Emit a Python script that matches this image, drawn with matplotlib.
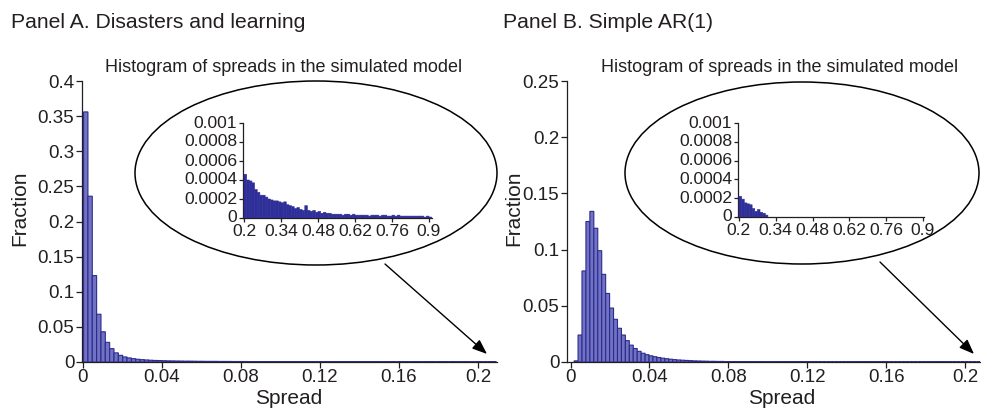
import numpy as np
import matplotlib
matplotlib.use("Agg")
import matplotlib.pyplot as plt
from matplotlib.patches import Ellipse, FancyArrowPatch

plt.rcParams['font.family'] = ['Liberation Sans', 'DejaVu Sans']

# ---------------- data ----------------
panel_titles = ["Panel A. Disasters and learning", "Panel B. Simple AR(1)"]
inset_title = "Histogram of spreads in the simulated model"
x_label = "Spread"
y_label = "Fraction"

main_xticks = [0, 0.04, 0.08, 0.12, 0.16, 0.2]
main_xticklabels = ["0", "0.04", "0.08", "0.12", "0.16", "0.2"]
a_yticks = [0, 0.05, 0.1, 0.15, 0.2, 0.25, 0.3, 0.35, 0.4]
a_yticklabels = ["0", "0.05", "0.1", "0.15", "0.2", "0.25", "0.3", "0.35", "0.4"]
b_yticks = [0, 0.05, 0.1, 0.15, 0.2, 0.25]
b_yticklabels = ["0", "0.05", "0.1", "0.15", "0.2", "0.25"]
inset_xticks = [0.2, 0.34, 0.48, 0.62, 0.76, 0.9]
inset_xticklabels = ["0.2", "0.34", "0.48", "0.62", "0.76", "0.9"]
inset_yticks = [0, 0.0002, 0.0004, 0.0006, 0.0008, 0.001]
inset_yticklabels = ["0", "0.0002", "0.0004", "0.0006", "0.0008", "0.001"]

# Panel A main histogram
a_bin_start = 0.0003
a_bin_width = 0.0022
a_frac = [
    0.356, 0.236, 0.123, 0.068, 0.043, 0.028, 0.019, 0.013, 0.0095, 0.0072,
    0.0058, 0.0047, 0.0039, 0.0033, 0.0029, 0.0025, 0.0022, 0.0020, 0.0018, 0.0016,
    0.0015, 0.0014, 0.0013, 0.0012, 0.0012, 0.0011, 0.0010, 0.0010, 0.0009, 0.0009,
    0.0009, 0.0008, 0.0008, 0.0008, 0.0007, 0.0007, 0.0007, 0.0007, 0.0006, 0.0006,
    0.0006, 0.0006, 0.0006, 0.0005, 0.0005, 0.0005, 0.0005, 0.0005, 0.0005, 0.0004,
    0.0004, 0.0004, 0.0004, 0.0004, 0.0004, 0.0004, 0.0003, 0.0004, 0.0003, 0.0003,
    0.0003, 0.0003, 0.0003, 0.0003, 0.0003, 0.0003, 0.0003, 0.0002, 0.0003, 0.0002,
    0.0002, 0.0002, 0.0002, 0.0002, 0.0002, 0.0002, 0.0002, 0.0002, 0.0002, 0.0002,
    0.0002, 0.0002, 0.0001, 0.0002, 0.0001, 0.0001, 0.0002, 0.0001, 0.0001, 0.0001,
    0.0001, 0.0001, 0.0001, 0.0001, 0.0001]

# Panel B main histogram
b_bin_start = 0.0018
b_bin_width = 0.002
b_frac = [
    0.001, 0.024, 0.081, 0.125, 0.134, 0.119, 0.099, 0.078, 0.061, 0.048,
    0.038, 0.030, 0.024, 0.019, 0.015, 0.012, 0.0095, 0.0078, 0.0065, 0.0055,
    0.0047, 0.0040, 0.0034, 0.0029, 0.0025, 0.0021, 0.0018, 0.0016, 0.0014, 0.0012,
    0.0010, 0.0009, 0.0008, 0.0007, 0.0006, 0.0006, 0.0005, 0.0005, 0.0004, 0.0004,
    0.0003, 0.0003, 0.0003, 0.0003, 0.0002, 0.0002, 0.0002, 0.0002, 0.0002, 0.0001,
    0.0001, 0.0001, 0.0001, 0.0001, 0.0001, 0.0001, 0.0001, 0.0001, 0.0001, 0.0001,
    0.00005, 0.0001, 0.00005, 0.00005, 0.00005, 0.00005, 0.00005, 0.00005, 0.00005, 0.00005,
    0.00005, 0.00005, 0.00005, 0.00005, 0.00005, 0.00005, 0.00005, 0.00005, 0.00005, 0.00005,
    0.00002, 0.00002, 0.00002, 0.00002, 0.00002, 0.00002, 0.00002, 0.00002, 0.00002, 0.00002,
    0.00002, 0.00002, 0.00002, 0.00002, 0.00002, 0.00002, 0.00002, 0.00002, 0.00002, 0.00002,
    0.00002, 0.00002, 0.00002]

# Inset histograms (tail, spread > 0.2)
inset_bin_start = 0.2
inset_bin_width = 0.01
a_inset_frac = [
    0.00046, 0.00040, 0.00039, 0.00037, 0.00030, 0.00027, 0.00024, 0.00024, 0.00022, 0.00020,
    0.00019, 0.00018, 0.00018, 0.00017, 0.00016, 0.00017, 0.00014, 0.00013, 0.00012, 0.00010,
    0.00011, 0.00009, 0.00008, 0.00013, 0.00008, 0.00007, 0.00008, 0.00006, 0.00007, 0.00005,
    0.00006, 0.00005, 0.00005, 0.00004, 0.00004, 0.00004, 0.00004, 0.00003, 0.00004, 0.00004,
    0.00003, 0.00004, 0.00003, 0.00003, 0.00003, 0.00003, 0.00003, 0.00002, 0.00003, 0.00003,
    0.00003, 0.00002, 0.00003, 0.00003, 0.00002, 0.00002, 0.00003, 0.00002, 0.00003, 0.00002,
    0.00002, 0.00002, 0.00002, 0.00002, 0.00002, 0.00002, 0.00002, 0.00002, 0.00001, 0.00002,
    0.00001]
b_inset_frac = [0.00022, 0.00019, 0.00015, 0.00014, 0.00013, 0.00009, 0.00006, 0.00008,
                0.00005, 0.00004, 0.00002]

# ---------------- styling ----------------
W, H = 981, 409
TXT = '#231f20'
BAR_FACE = '#7272c4'
BAR_EDGE = '#2b2b8c'
INSET_BAR = '#2e2e98'

fig = plt.figure(figsize=(W / 100, H / 100), dpi=100)


def fx(px):
    return px / W


def fy(py):
    return 1 - py / H


def style_axes(ax, tick_len, fs, ypad, xpad):
    for s in ['top', 'right']:
        ax.spines[s].set_visible(False)
    for s in ['left', 'bottom']:
        ax.spines[s].set_color(TXT)
        ax.spines[s].set_linewidth(0.9)
    ax.tick_params(axis='both', direction='out', length=tick_len, width=0.9,
                   colors=TXT, labelsize=fs)
    ax.tick_params(axis='y', pad=ypad)
    ax.tick_params(axis='x', pad=xpad)
    ax.patch.set_alpha(0)


def main_panel(rect, frac, start, width, xlim, ylim, yticks, yticklabels):
    ax = fig.add_axes(rect)
    lefts = start + width * np.arange(len(frac))
    bars = ax.bar(lefts, frac, width=width, align='edge', color=BAR_FACE,
                  edgecolor=BAR_EDGE, linewidth=0.8, zorder=3)
    for p in bars:
        p.set_snap(False)
    ax.set_xlim(*xlim)
    ax.set_ylim(*ylim)
    ax.set_xticks(main_xticks)
    ax.set_xticklabels(main_xticklabels)
    ax.set_yticks(yticks)
    ax.set_yticklabels(yticklabels)
    style_axes(ax, 4.0, 13.5, 1.5, 1)
    return ax


def inset_panel(rect, frac, xlim):
    ax = fig.add_axes(rect)
    lefts = inset_bin_start + inset_bin_width * np.arange(len(frac))
    bars = ax.bar(lefts, frac, width=inset_bin_width, align='edge', color=INSET_BAR,
                  edgecolor=INSET_BAR, linewidth=0.4, zorder=3)
    for p in bars:
        p.set_snap(False)
    ax.set_xlim(*xlim)
    ax.set_ylim(0, 0.001)
    ax.set_xticks(inset_xticks)
    ax.set_xticklabels(inset_xticklabels)
    ax.set_yticks(inset_yticks)
    ax.set_yticklabels(inset_yticklabels)
    style_axes(ax, 3.2, 12.6, 1, 1.2)
    for lab in ax.get_yticklabels():
        lab.set_verticalalignment('center')
    return ax


# Panel A
axA = main_panel([fx(82), fy(362), fx(497) - fx(82), fy(81) - fy(362)],
                 a_frac, a_bin_start, a_bin_width, (-0.0005, 0.2096), (0, 0.4),
                 a_yticks, a_yticklabels)
# Panel B
axB = main_panel([fx(567), fy(362), fx(980) - fx(567), fy(81) - fy(362)],
                 b_frac, b_bin_start, b_bin_width, (-0.0018, 0.2076), (0, 0.25),
                 b_yticks, b_yticklabels)

# Ellipses and arrows
for (cx, cy, a, b) in [(316, 173, 181, 92), (802, 173, 177, 91)]:
    e = Ellipse((fx(cx), fy(cy)), width=2 * a / W, height=2 * b / H,
                transform=fig.transFigure, fill=False, edgecolor='black', linewidth=1.1)
    fig.add_artist(e)

for (x0, y0, x1, y1) in [(385, 264, 487, 354), (880, 262, 974, 354)]:
    arr = FancyArrowPatch((fx(x0), fy(y0)), (fx(x1), fy(y1)), transform=fig.transFigure,
                          arrowstyle='-|>,head_length=0.9,head_width=0.35',
                          mutation_scale=10, linewidth=1.0, color='black',
                          shrinkA=0, shrinkB=0)
    fig.add_artist(arr)

# Insets
inset_panel([fx(243), fy(218), fx(432) - fx(243), fy(123) - fy(218)],
            a_inset_frac, (0.1962, 0.9113))
inset_panel([fx(738), fy(217), fx(924) - fx(738), fy(123) - fy(217)],
            b_inset_frac, (0.1962, 0.9040))

# Texts
fig.text(fx(11), fy(28), panel_titles[0], fontsize=15.2, color=TXT, va='baseline', ha='left')
fig.text(fx(503), fy(28), panel_titles[1], fontsize=15.2, color=TXT, va='baseline', ha='left')
fig.text(fx(284), fy(72), inset_title, fontsize=13, color=TXT, va='baseline', ha='center')
fig.text(fx(780), fy(72), inset_title, fontsize=13, color=TXT, va='baseline', ha='center')
fig.text(fx(20), fy(208), y_label, fontsize=15, color=TXT, rotation=90, va='center', ha='center')
fig.text(fx(514), fy(208), y_label, fontsize=15, color=TXT, rotation=90, va='center', ha='center')
fig.text(fx(289), fy(404), x_label, fontsize=15, color=TXT, va='baseline', ha='center')
fig.text(fx(782), fy(404), x_label, fontsize=15, color=TXT, va='baseline', ha='center')

fig.savefig("out.png", dpi=100, facecolor='white')
